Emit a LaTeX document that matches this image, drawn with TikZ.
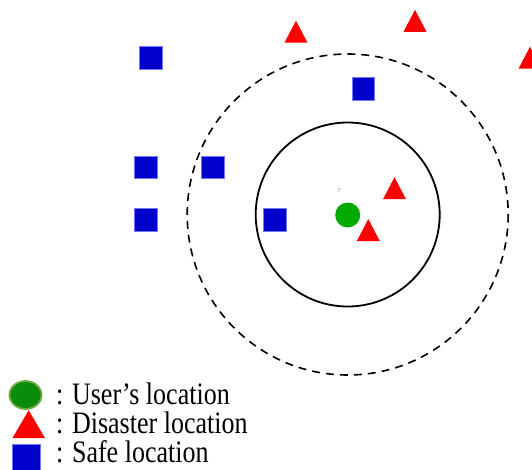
\documentclass[tikz,border=0pt]{standalone}
\usepackage{fontspec}
\setmainfont{Liberation Serif}
\usetikzlibrary{shapes.geometric}
\definecolor{safeblue}{RGB}{0,0,204}
\definecolor{safeedge}{RGB}{120,120,255}
\definecolor{usergreen}{RGB}{0,170,0}
\definecolor{keygreen}{RGB}{10,140,10}
\definecolor{keyedge}{RGB}{110,170,60}
\definecolor{disred}{RGB}{255,0,0}
\newcommand{\keylabel}[1]{\scalebox{1}[1.2]{#1}}
\tikzset{
  safe/.style={rectangle, fill=safeblue, draw=safeedge, line width=0.6pt,
    minimum width=22.5pt, minimum height=22.5pt, inner sep=0pt},
  user/.style={circle, fill=usergreen, minimum size=25pt, inner sep=0pt},
  disaster/.pic={\fill[disred] (-11.5,11) -- (11.5,11) -- (0,-11) -- cycle;},
  bigdisaster/.pic={\fill[disred] (-16.3,14) -- (16.3,14) -- (0,-14) -- cycle;},
  ring/.style={draw=black, line width=1.8pt},
  reach/.style={draw=black, line width=1.6pt, dash pattern=on 8pt off 6pt},
  keytext/.style={anchor=base west, inner sep=0pt, font=\fontsize{26}{30}\selectfont}
}
\begin{document}
\begin{tikzpicture}[x=1pt,y=-1pt]
  \useasboundingbox (0,0) rectangle (532,469);
  \clip (0,0) rectangle (532,469);

  % search radii around the user
  \coordinate (centre) at (347.7,214.5);
  \draw[reach] (centre) circle (160.5);
  \draw[ring] (centre) circle (92);

  % user
  \node[user] (me) at (347.7,215) {};
  \node[text=usergreen, inner sep=0pt, font=\fontsize{6}{7}\selectfont] (q) at (339,191) {?};

  % safe locations
  \node[safe] (s1) at (151,57.7) {};
  \node[safe] (s2) at (363.3,89) {};
  \node[safe] (s3) at (145.7,167.5) {};
  \node[safe] (s4) at (213,167.5) {};
  \node[safe] (s5) at (145.7,219.7) {};
  \node[safe] (s6) at (275,219.7) {};

  % disaster locations
  \pic at (296,31.7) {disaster};
  \pic at (415,20.8) {disaster};
  \pic at (530,57.7) {disaster};
  \pic at (394.5,188.2) {disaster};
  \pic at (368.3,230) {disaster};

  % legend
  \node[ellipse, fill=keygreen, draw=keyedge, line width=1.8pt, minimum width=32pt,
    minimum height=28pt, inner sep=0pt] (kuser) at (25.5,395) {};
  \pic at (28.7,424.2) {bigdisaster};
  \node[rectangle, fill=safeblue, draw=safeedge, line width=0.6pt, minimum width=28.4pt,
    minimum height=28pt, inner sep=0pt] (ksafe) at (26.5,458) {};
  \node[keytext] (t1) at (56,404.3) {\keylabel{: User’s location}};
  \node[keytext] (t2) at (56,433.3) {\keylabel{: Disaster location}};
  \node[keytext] (t3) at (56,462.3) {\keylabel{: Safe location}};
\end{tikzpicture}
\end{document}
